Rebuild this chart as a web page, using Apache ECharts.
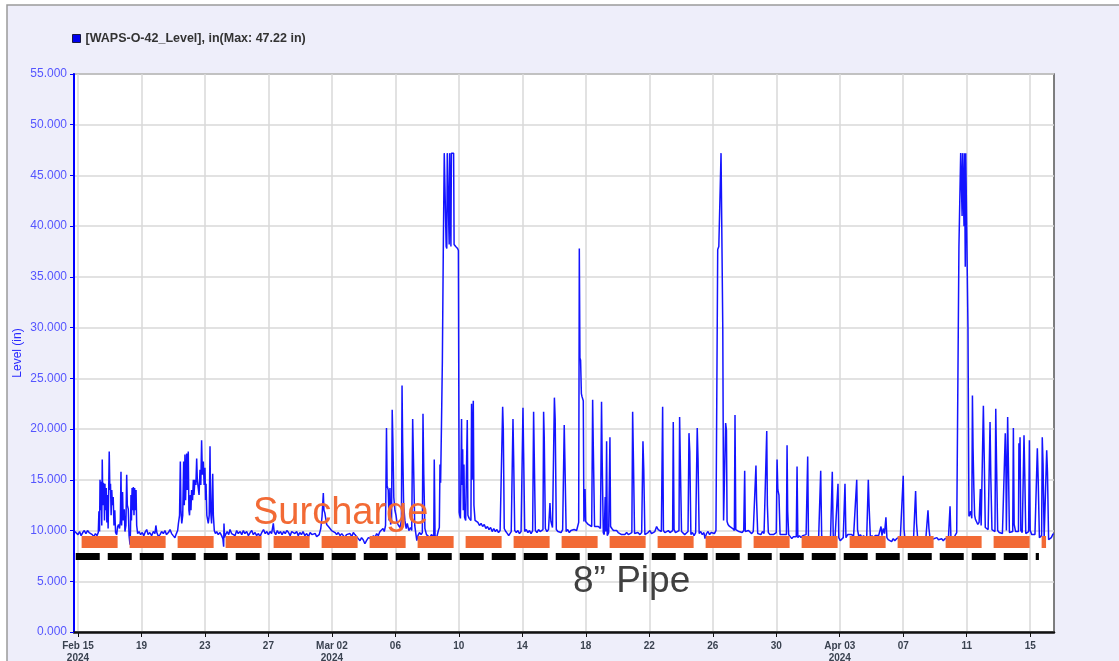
<!DOCTYPE html>
<html>
<head>
<meta charset="utf-8">
<script src="https://cdn.jsdelivr.net/npm/echarts@6/dist/echarts.min.js"></script>
<style>
html,body{margin:0;padding:0;background:#fff;}
#chart{width:1119px;height:661px;}
</style>
</head>
<body>
<div id="chart"></div>
<script>
// x values: days since 2024-02-15 00:00
const seriesName = '[WAPS-O-42_Level], in(Max: 47.22 in)';
const tickDays = [0, 4, 8, 12, 16, 20, 24, 28, 32, 36, 40, 44, 48, 52, 56, 60];
const tickLabels = ['Feb 15\n2024', '19', '23', '27', 'Mar 02\n2024', '06', '10', '14', '18', '22', '26', '30', 'Apr 03\n2024', '07', '11', '15'];
const surchargeLevel = 8.85;
const surchargeSpan = [0.23, 61.0];
const pipeLevel = 7.5;
const pipeSpan = [-0.14, 60.55];

const levelsFeb = [
[-0.2,9.9],[-0.08,10.0],[0.0,9.6],[0.1,9.9],[0.2,9.5],[0.3,9.8],[0.4,10.0],[0.5,9.7],[0.6,10.0],[0.7,9.8],[0.8,9.9],[0.9,9.6],[1.0,9.4],[1.1,9.7],[1.2,9.5],[1.28,9.8],
[1.32,11.9],[1.36,9.9],[1.39,15.0],[1.43,12.0],[1.47,14.8],[1.50,10.5],[1.53,17.0],[1.57,12.5],[1.60,14.7],[1.64,14.5],[1.67,11.0],[1.70,14.6],[1.74,12.0],[1.78,14.2],[1.82,10.8],[1.86,13.5],[1.90,10.2],[1.97,17.8],[2.01,14.0],[2.05,14.6],[2.09,11.5],[2.13,14.0],[2.17,12.5],[2.22,13.3],[2.27,10.5],[2.32,12.0],[2.37,9.8],[2.44,9.6],[2.50,10.4],[2.56,10.6],[2.62,10.2],
[2.67,11.0],[2.71,15.8],[2.75,10.5],[2.81,13.8],[2.85,11.0],[2.92,12.1],[2.96,9.9],[3.02,10.5],[3.07,15.5],[3.11,12.5],[3.17,12.1],[3.22,9.5],[3.28,8.6],[3.31,10.0],[3.34,13.5],[3.37,11.0],[3.41,14.2],[3.45,12.0],[3.49,14.3],[3.53,11.5],[3.57,14.2],[3.61,12.0],[3.66,14.0],[3.70,10.5],[3.76,9.7],
[3.85,9.9],[3.95,9.6],[4.05,9.8],[4.15,9.5],[4.25,9.9],[4.33,10.1],[4.42,9.6],[4.52,9.8],[4.64,9.5],[4.75,9.9],[4.85,9.7],[4.91,10.5],[4.97,9.8],[5.07,9.4],[5.17,9.6],[5.27,9.9],[5.38,9.7],[5.48,10.0],[5.58,9.6],[5.70,9.8],[5.80,10.1],[5.90,9.7],[6.00,9.5],[6.11,9.3],[6.20,9.7],[6.28,10.0],
[6.33,10.7],[6.40,11.5],[6.45,16.8],[6.49,12.0],[6.54,10.7],[6.60,11.5],[6.66,16.8],[6.70,12.5],[6.74,17.5],[6.78,13.0],[6.85,17.6],[6.89,14.0],[6.95,17.8],[6.99,12.0],[7.03,11.5],[7.08,13.5],[7.12,12.0],[7.16,14.0],[7.22,13.0],[7.27,15.0],[7.31,13.5],[7.37,15.0],[7.43,14.5],[7.48,17.1],[7.52,15.0],[7.58,15.0],[7.63,13.5],[7.69,16.0],[7.74,14.5],[7.79,18.9],[7.84,15.5],[7.90,16.8],[7.95,14.5],[8.00,16.2],[8.04,13.0],[8.07,14.6],[8.12,11.5],[8.21,10.7],[8.27,11.5],[8.32,18.3],[8.36,12.0],[8.42,10.7],[8.49,15.6],[8.53,11.5],[8.59,10.0],
[8.66,9.7],[8.74,9.9],[8.84,9.6],[8.95,9.8],[9.05,9.5],[9.13,9.2],[9.18,8.4],[9.20,10.7],[9.24,9.3],[9.30,9.6],[9.40,9.9],[9.50,9.6],[9.58,10.1],[9.68,9.7],[9.79,9.8],[9.90,9.5],[10.00,10.0],[10.10,9.7],[10.22,9.9],[10.32,9.6],[10.42,10.0],[10.52,9.7],[10.63,9.9],[10.74,9.5],[10.85,9.8],[10.95,10.0],[11.05,9.6],[11.16,9.8],[11.26,9.5],[11.37,9.7],[11.47,9.4],[11.58,9.8],[11.69,10.1],[11.80,9.7],[11.90,9.9],[12.00,9.6],[12.10,9.9],[12.20,9.7],[12.31,10.7],[12.36,9.9],[12.46,9.6],[12.56,10.0],[12.66,9.7],[12.76,9.9],[12.86,9.6],[12.96,9.9],[13.06,9.7],[13.16,10.0],[13.27,9.8],[13.37,9.5],[13.47,9.9],[13.57,10.0],[13.67,9.7],[13.78,9.9],[13.88,9.5],[13.98,9.8],[14.08,9.6],[14.18,9.9],[14.30,9.5],[14.41,9.7],[14.52,9.4],[14.63,9.8],[14.74,9.6],[14.85,9.5],[14.95,9.7],[15.04,9.4],[15.20,9.6],[15.30,10.2]
];

const levelsMarEarly = [
[15.38,11.4],[15.46,13.7],[15.50,12.0],[15.56,11.7],[15.67,10.6],[15.78,10.4],[15.88,10.2],[15.98,10.0],[16.09,10.1],[16.20,9.8],[16.30,9.6],[16.40,9.8],[16.52,9.5],[16.62,9.7],[16.72,9.6],[16.82,9.3],[16.92,9.6],[17.04,9.5],[17.14,9.7],[17.25,9.4],[17.35,9.8],[17.45,9.6],[17.56,9.4],[17.66,9.3],[17.77,9.0],[17.87,9.3],[17.97,9.1],[18.08,8.7],[18.18,9.0],[18.30,9.3],[18.40,9.4],[18.50,9.2],[18.62,9.5],[18.72,9.3],[18.82,9.7],[18.92,9.5],[19.03,9.9],[19.13,9.8],[19.22,10.2],[19.30,9.9],
[19.38,10.5],[19.44,20.1],[19.48,14.4],[19.55,14.0],[19.60,11.0],[19.66,14.2],[19.70,10.6],[19.76,11.0],[19.80,21.9],[19.84,19.1],[19.90,13.3],[19.97,12.0],[20.04,11.5],[20.10,10.8],[20.20,10.5],[20.30,10.3],[20.38,11.0],[20.42,24.3],[20.46,18.3],[20.52,12.5],[20.60,11.0],[20.68,10.2],[20.75,10.7],[20.85,10.0],[20.95,10.3],[21.03,10.0],[21.09,21.0],[21.14,17.0],[21.22,10.5],[21.28,9.8],[21.35,9.0],[21.42,9.5],[21.52,9.8],[21.62,9.6],[21.70,9.8],[21.74,21.5],[21.79,15.5],[21.86,10.2],[21.96,9.6],[22.07,9.7],[22.17,9.3],[22.27,9.6],[22.37,9.5],[22.42,9.4],[22.45,17.0],[22.50,9.5],[22.60,9.3],[22.71,10.0],[22.77,10.3],
[22.81,16.5],[22.85,14.7],[22.90,19.9],[22.96,26.6],[23.02,37.8],[23.08,47.2],[23.16,47.2],[23.20,38.0],[23.24,37.8],[23.27,47.2],[23.36,47.2],[23.39,38.2],[23.42,47.2],[23.47,47.2],[23.50,38.0],[23.53,47.2],[23.67,47.2],[23.70,38.2],[23.80,38.0],[23.92,37.8],[23.97,37.6],[24.02,11.8],
[24.05,11.5],[24.10,11.2],[24.17,21.0],[24.20,14.5],[24.24,18.0],[24.28,12.0],[24.32,16.5],[24.36,11.3],[24.43,11.0],[24.53,20.9],[24.57,11.5],[24.65,11.2],[24.76,11.0],[24.80,22.5],[24.84,15.0],[24.91,22.8],[24.95,12.5],[25.02,11.0],
[25.10,11.1],[25.20,10.8],[25.30,10.5],[25.40,10.7],[25.50,10.4],[25.60,10.6],[25.70,10.2],[25.80,10.4],[25.90,10.1],[26.00,10.3],[26.10,9.9],[26.20,10.2],[26.30,9.9],[26.40,10.1],[26.50,9.8],[26.60,10.0],[26.70,9.9],
[26.76,22.2],[26.80,20.0],[26.86,10.2],[26.96,9.9],[27.06,9.7],[27.14,9.5],[27.22,9.6],[27.30,9.9],[27.37,10.0],[27.41,21.0],[27.45,17.4],[27.52,10.0],[27.62,9.8],[27.72,10.0],[27.82,9.7],[27.92,9.9],[28.00,10.0],[28.04,22.1],[28.08,17.7],[28.15,9.9],[28.25,10.1],[28.35,9.8],[28.45,10.0],[28.55,9.7],[28.65,10.0],[28.71,21.7],[28.75,17.5],[28.82,10.0],[28.92,9.8],[29.02,10.1],[29.12,9.9],[29.22,10.0],[29.30,10.1],[29.34,21.7],[29.38,19.2],[29.45,10.2],[29.55,9.9],[29.65,10.1],[29.74,12.7],[29.80,10.9],[29.90,10.3],[29.98,10.2],[30.02,23.1],[30.07,20.9],[30.14,10.1],[30.24,9.9],[30.34,10.0],[30.44,9.8],[30.54,10.1],[30.64,20.4],[30.68,17.1],[30.76,9.9],[30.86,10.1],[30.96,9.8],[31.06,10.0],[31.16,9.9],[31.26,10.1],[31.36,10.0],[31.42,10.0]
];

const levelsMarLate = [
[31.55,10.8],[31.59,37.8],[31.63,27.0],[31.67,26.8],[31.72,23.5],[31.76,23.2],[31.84,22.8],[31.88,10.9],[31.95,14.1],[31.99,10.9],[32.05,10.8],[32.15,10.6],[32.25,10.5],[32.37,10.4],[32.43,22.9],[32.47,18.4],[32.55,10.4],[32.65,10.5],[32.79,10.4],[32.92,10.2],[32.99,22.7],[33.03,17.0],[33.10,9.8],[33.16,9.6],[33.22,13.3],[33.26,9.9],[33.31,18.8],[33.35,9.5],[33.44,9.8],[33.52,19.2],[33.56,10.4],[33.64,10.2],[33.74,10.0],[33.84,9.9],[33.94,10.0],[34.04,9.8],[34.14,9.9],[34.25,9.6],[34.36,9.7],[34.46,9.6],[34.57,9.8],[34.68,9.6],[34.78,9.7],[34.90,9.8],[34.95,21.7],[35.00,17.0],[35.07,9.7],[35.17,9.6],[35.28,9.8],[35.41,9.6],[35.52,9.8],[35.60,18.8],[35.65,16.1],[35.72,9.6],[35.82,9.5],[35.92,9.8],[36.04,10.0],[36.14,9.7],[36.25,9.6],[36.35,9.9],[36.46,10.4],[36.56,10.1],[36.67,10.0],[36.76,9.9],[36.84,22.2],[36.89,10.0],[36.98,9.8],[37.10,9.9],[37.20,10.0],[37.30,9.8],[37.40,9.9],[37.47,10.0],[37.51,20.7],[37.56,10.1],[37.65,9.8],[37.75,9.9],[37.87,10.0],[37.91,21.2],[37.95,17.3],[38.03,9.9],[38.13,9.8],[38.23,9.6],[38.33,9.7],[38.44,9.9],[38.50,19.6],[38.55,17.8],[38.62,9.6],[38.72,9.8],[38.82,9.5],[38.92,9.8],[39.02,20.1],[39.07,17.1],[39.14,9.7],[39.24,9.9],[39.34,9.6],[39.44,9.8],[39.51,9.2],[39.60,9.7],[39.70,9.9],[39.80,9.6],[39.90,9.8],[40.00,9.9],[40.10,9.7],[40.20,10.0],[40.25,10.1],
[40.31,37.7],[40.38,38.0],[40.45,38.1],[40.52,47.2],[40.57,47.2],[40.63,30.0],[40.68,11.0],[40.74,10.9],[40.81,20.6],[40.86,19.9],[40.90,10.9],[40.96,10.6],[41.06,10.4],[41.16,10.3],[41.26,10.2],[41.36,10.0],[41.40,21.4],[41.45,10.1],[41.55,10.0],[41.65,9.9],[41.75,10.0],[41.85,9.8],[41.95,10.0],[42.01,15.9],[42.05,9.9],[42.15,9.8],[42.25,10.0],[42.35,9.9],[42.45,9.7],[42.55,9.9],[42.65,9.8],[42.72,16.4],[42.76,13.0],[42.83,9.7],[42.93,9.8],[43.03,9.6],[43.13,9.9],[43.23,9.7],[43.33,9.8],[43.40,19.8],[43.44,12.5],[43.50,9.8],[43.60,9.6],[43.72,9.5],[43.82,9.6],[43.92,9.7],[44.00,9.8],[44.05,17.0],[44.10,14.0],[44.17,13.5],[44.24,9.6],[44.34,9.7],[44.45,9.6],[44.55,9.5],[44.64,9.6],[44.68,18.4],[44.72,11.9],[44.78,9.6],[44.88,9.4],[44.98,9.2],[45.08,9.4],[45.18,9.3],[45.26,9.4],[45.31,16.3],[45.36,9.3],[45.46,9.5],[45.56,9.3],[45.66,9.5],[45.76,9.4],[45.88,9.6],[45.98,17.3],[46.03,9.2],[46.12,9.0],[46.17,8.8],[46.27,9.1],[46.37,9.0],[46.47,9.2],[46.57,9.0],[46.67,9.3],[46.75,9.3]
];

const levelsApr = [
[46.80,15.9],[46.86,9.5],[46.95,9.3],[47.05,9.4],[47.18,9.3],[47.30,9.2],[47.42,9.4],[47.50,9.3],[47.53,15.8],[47.59,9.4],[47.70,9.2],[47.80,9.3],[47.89,14.6],[47.94,9.3],[48.03,9.0],[48.12,9.1],[48.22,9.3],[48.30,9.3],[48.33,14.6],[48.39,9.3],[48.50,9.6],[48.62,9.5],[48.75,9.6],[48.87,9.4],[48.98,9.5],[49.07,15.0],[49.12,10.1],[49.20,9.4],[49.30,9.6],[49.40,9.3],[49.50,9.5],[49.60,9.2],[49.70,9.4],[49.80,15.0],[49.85,12.4],[49.93,9.3],[50.03,9.5],[50.13,9.3],[50.23,9.5],[50.32,9.6],[50.45,9.5],[50.60,10.4],[50.66,9.5],[50.74,10.2],[50.82,9.7],[50.91,11.3],[50.97,9.3],[51.05,9.1],[51.15,9.0],[51.27,8.9],[51.37,9.2],[51.47,9.0],[51.58,9.2],[51.70,9.3],[51.82,9.4],[51.92,9.5],[52.00,15.4],[52.05,10.1],[52.12,9.0],[52.17,8.9],[52.25,9.3],[52.35,9.1],[52.45,9.2],[52.55,9.0],[52.65,9.2],[52.75,9.3],[52.78,13.9],[52.84,10.7],[52.92,9.0],[53.02,9.2],[53.12,8.9],[53.22,9.0],[53.32,8.9],[53.42,9.1],[53.52,9.2],[53.56,12.0],[53.62,10.2],[53.70,9.1],[53.80,9.0],[53.92,9.2],[54.02,9.1],[54.12,9.3],[54.22,9.1],[54.32,9.0],[54.42,9.2],[54.52,9.0],[54.63,9.2],[54.75,9.1],[54.85,9.3],[54.92,9.2],[54.95,12.4],[55.01,9.0],[55.08,8.9],[55.16,8.8],[55.26,9.5],[55.37,9.8],[55.45,9.9],
[55.51,38.0],[55.57,38.0],[55.62,47.2],[55.68,47.2],[55.71,41.0],[55.74,47.2],[55.80,47.2],[55.83,40.0],[55.86,47.2],[55.89,47.2],[55.91,36.0],[55.94,47.2],[56.03,47.2],[56.08,30.0],[56.14,11.4],
[56.20,11.6],[56.25,11.9],[56.32,11.2],[56.36,23.3],[56.40,18.1],[56.45,14.2],[56.50,11.5],[56.55,11.1],[56.62,11.0],[56.70,10.6],[56.78,10.8],[56.86,14.1],[56.91,10.5],[56.98,10.4],[57.05,22.3],[57.10,17.6],[57.17,10.3],[57.25,10.2],[57.35,10.1],[57.43,10.0],[57.47,20.7],[57.52,15.2],[57.59,10.1],[57.67,10.0],[57.78,9.9],[57.83,22.0],[57.88,16.6],[57.95,10.0],[58.05,9.8],[58.15,9.9],[58.25,9.7],[58.35,9.8],[58.43,19.6],[58.47,16.3],[58.50,10.0],[58.55,9.9],[58.58,21.2],[58.63,16.3],[58.69,9.8],[58.80,9.7],[58.90,9.9],[58.94,20.1],[58.99,10.6],[59.08,9.9],[59.18,9.8],[59.26,9.9],[59.29,18.6],[59.33,15.0],[59.36,19.2],[59.41,10.0],[59.50,9.8],[59.57,9.9],[59.61,19.4],[59.66,15.4],[59.72,9.7],[59.82,9.8],[59.90,9.9],[59.95,18.9],[60.00,10.0],[60.10,9.6],[60.20,9.5],[60.30,9.6],[60.40,9.7],[60.45,18.1],[60.50,15.2],[60.58,9.3],[60.66,9.4],[60.72,9.5],[60.76,19.2],[60.81,16.6],[60.88,9.3],[60.96,9.4],[61.04,17.9],[61.09,15.7],[61.16,9.1],[61.25,9.0],[61.33,9.3],[61.42,9.6],[61.48,9.7]
];

const levelData = [].concat(levelsFeb, levelsMarEarly, levelsMarLate, levelsApr);
const FONT = '"Liberation Sans", Arial, sans-serif';

const chart = echarts.init(document.getElementById('chart'), null, {renderer: 'canvas'});
chart.setOption({
  animation: false,
  backgroundColor: '#ffffff',
  textStyle: {fontFamily: FONT},
  graphic: [
    {type: 'rect', z: -10, silent: true, shape: {x: 7, y: 5, width: 1130, height: 680},
     style: {fill: '#EEEEFA', stroke: '#9a9a9a', lineWidth: 1.5}},
    {type: 'text', z: 100, left: 253, top: 495, silent: true,
     style: {text: 'Surcharge', fill: '#F26A35', font: '38px ' + FONT}},
    {type: 'text', z: 100, left: 573, top: 563, silent: true,
     style: {text: '8\u201D Pipe', fill: '#404040', font: '37px ' + FONT}}
  ],
  legend: {
    left: 72, top: 32, padding: 0, icon: 'rect', itemWidth: 8, itemHeight: 8, itemGap: 10,
    itemStyle: {borderColor: '#1a1a40', borderWidth: 1},
    textStyle: {fontSize: 12.5, fontWeight: 'bold', color: '#333333', fontFamily: FONT},
    data: [seriesName]
  },
  grid: {left: 74, right: 65, top: 74, bottom: 29, containLabel: false, outerBoundsMode: 'none',
    show: true, backgroundColor: '#ffffff', borderColor: '#555555', borderWidth: 1.5},
  xAxis: {
    type: 'value', min: -0.25, max: 61.5,
    axisLine: {show: true, onZero: false, lineStyle: {color: '#111111', width: 2.5}},
    axisTick: {show: true, customValues: tickDays, length: 5, lineStyle: {color: '#111111', width: 1}},
    axisLabel: {
      customValues: tickDays, margin: 8, fontSize: 10, fontWeight: 'bold', color: '#3a4250', lineHeight: 12,
      fontFamily: FONT,
      formatter: function (v) { const i = tickDays.indexOf(Math.round(v)); return i >= 0 ? tickLabels[i] : ''; }
    },
    splitLine: {show: true, lineStyle: {color: '#d9d9d9', width: 1.5}}
  },
  yAxis: {
    type: 'value', min: 0, max: 55, interval: 5,
    name: 'Level (in)', nameLocation: 'middle', nameGap: 50, nameRotate: 90, nameMoveOverlap: false,
    nameTextStyle: {color: '#2a2aff', fontSize: 12, fontFamily: FONT},
    axisLine: {show: true, onZero: false, lineStyle: {color: '#0000ff', width: 2}},
    axisTick: {show: true, length: 4, lineStyle: {color: '#0000ff'}},
    axisLabel: {margin: 7, fontSize: 12, color: '#5555ff', fontFamily: FONT, formatter: function (v) { return v.toFixed(3); }},
    splitLine: {show: true, lineStyle: {color: '#d9d9d9', width: 1.5}}
  },
  series: [
    {
      name: seriesName, type: 'line', data: levelData, showSymbol: false, symbol: 'none',
      sampling: null, z: 3,
      lineStyle: {color: '#1414ff', width: 1.5},
      itemStyle: {color: '#0000ee'}
    },
    {
      name: 'refs', type: 'line', data: [], z: 6, silent: true,
      markLine: {
        silent: true, symbol: 'none', animation: false, label: {show: false},
        data: [
          [{coord: [pipeSpan[0], pipeLevel], lineStyle: {color: '#000000', width: 7, type: [24, 8]}},
           {coord: [pipeSpan[1], pipeLevel]}],
          [{coord: [surchargeSpan[0], surchargeLevel], lineStyle: {color: '#F26A35', width: 12, type: [36, 12]}},
           {coord: [surchargeSpan[1], surchargeLevel]}]
        ]
      }
    }
  ]
});
</script>
</body>
</html>
